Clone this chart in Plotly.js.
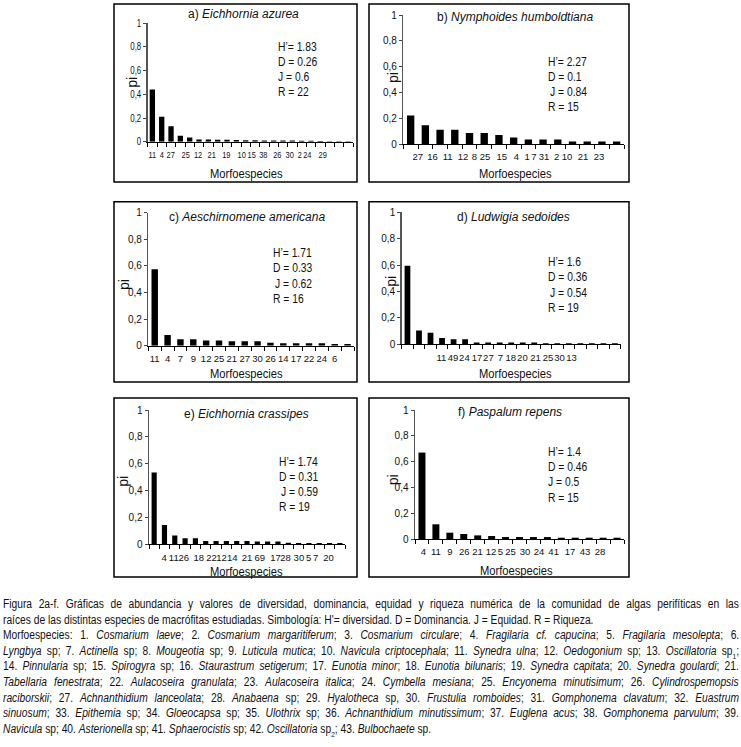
<!DOCTYPE html>
<html>
<head>
<meta charset="utf-8">
<script src="https://cdn.plot.ly/plotly-3.0.1.min.js"></script>
<style>
  html, body { margin: 0; padding: 0; background: #fff; }
  #wrap { position: relative; width: 741px; height: 747px; overflow: hidden; }
  #chart { position: absolute; left: 0; top: 0; width: 741px; height: 747px; }
  #caption { position: absolute; left: 3px; top: 597px; width: 736px;
    font-family: "Liberation Sans", Arial, sans-serif;
    font-size: 12.5px; line-height: 15.6px; color: #111; }
  #caption .line { white-space: nowrap; height: 15.6px; }
  #caption .line span { display: inline-block; white-space: nowrap; transform-origin: 0 50%; }
  #caption sub { font-size: 8px; line-height: 0; }
</style>
</head>
<body>
<div id="wrap">
<div id="chart"></div>
<div id="caption">
<div class="line j"><span>Figura 2a-f. Gráficas de abundancia y valores de diversidad, dominancia, equidad y riqueza numérica de la comunidad de algas perifíticas en las</span></div>
<div class="line" data-w="560"><span>raíces de las distintas especies de macrófitas estudiadas. Simbología: H'= diversidad. D = Dominancia. J = Equidad. R = Riqueza.</span></div>
<div class="line j"><span>Morfoespecies: 1. <i>Cosmarium laeve</i>; 2. <i>Cosmarium margaritiferum</i>; 3. <i>Cosmarium circulare</i>; 4. <i>Fragilaria cf. capucina</i>; 5. <i>Fragilaria mesolepta</i>; 6.</span></div>
<div class="line j"><span><i>Lyngbya</i> sp; 7. <i>Actinella</i> sp; 8. <i>Mougeotia</i> sp; 9. <i>Luticula mutica</i>; 10. <i>Navicula criptocephala</i>; 11. <i>Synedra ulna</i>; 12. <i>Oedogonium</i> sp; 13. <i>Oscillatoria</i> sp<sub>1</sub>;</span></div>
<div class="line j"><span>14. <i>Pinnularia</i> sp; 15. <i>Spirogyra</i> sp; 16. <i>Staurastrum setigerum</i>; 17. <i>Eunotia minor</i>; 18. <i>Eunotia bilunaris</i>; 19. <i>Synedra capitata</i>; 20. <i>Synedra goulardi</i>; 21.</span></div>
<div class="line j"><span><i>Tabellaria fenestrata</i>; 22. <i>Aulacoseira granulata</i>; 23. <i>Aulacoseira italica</i>; 24. <i>Cymbella mesiana</i>; 25. <i>Encyonema minutisimum</i>; 26. <i>Cylindrospemopsis</i></span></div>
<div class="line j"><span><i>raciborskii</i>; 27. <i>Achnanthidium lanceolata</i>; 28. <i>Anabaena</i> sp; 29. <i>Hyalotheca</i> sp, 30. <i>Frustulia romboides</i>; 31. <i>Gomphonema clavatum</i>; 32. <i>Euastrum</i></span></div>
<div class="line j"><span><i>sinuosum</i>; 33. <i>Epithemia</i> sp; 34. <i>Gloeocapsa</i> sp; 35. <i>Ulothrix</i> sp; 36. <i>Achnanthidium minutissimum</i>; 37. <i>Euglena acus</i>; 38. <i>Gomphonema parvulum</i>; 39.</span></div>
<div class="line" data-w="450"><span><i>Navicula</i> sp; 40. <i>Asterionella</i> sp; 41. <i>Sphaerocistis</i> sp; 42. <i>Oscillatoria</i> sp<sub>2</sub>; 43. <i>Bulbochaete</i> sp.</span></div>
</div>
</div>
<script>
// ---------------- DATA ----------------
const titlesA = "a) <i>Eichhornia azurea</i>";
const titlesB = "b) <i>Nymphoides humboldtiana</i>";
const titlesC = "c) <i>Aeschirnomene americana</i>";
const titlesD = "d) <i>Ludwigia sedoides</i>";
const titlesE = "e) <i>Eichhornia crassipes</i>";
const titlesF = "f) <i>Paspalum repens</i>";

const valuesA = [0.44, 0.21, 0.13, 0.05, 0.035, 0.018, 0.018, 0.017, 0.016, 0.015, 0.013, 0.012, 0.011, 0.01, 0.01, 0.01, 0.009, 0.007, 0.005, 0.004, 0.003, 0.003];
const valuesB = [0.22, 0.145, 0.11, 0.11, 0.085, 0.085, 0.07, 0.05, 0.035, 0.035, 0.035, 0.02, 0.02, 0.02, 0.02];
const valuesC = [0.575, 0.08, 0.048, 0.048, 0.04, 0.04, 0.033, 0.033, 0.033, 0.023, 0.018, 0.018, 0.018, 0.018, 0.013, 0.013];
const valuesD = [0.595, 0.105, 0.088, 0.048, 0.038, 0.038, 0.013, 0.013, 0.013, 0.013, 0.013, 0.013, 0.008, 0.008, 0.008, 0.008, 0.008, 0.008, 0.008];
const valuesE = [0.535, 0.143, 0.065, 0.045, 0.045, 0.025, 0.025, 0.025, 0.025, 0.025, 0.02, 0.02, 0.02, 0.012, 0.01, 0.01, 0.01, 0.01, 0.01];
const valuesF = [0.67, 0.114, 0.049, 0.039, 0.028, 0.023, 0.015, 0.015, 0.015, 0.015, 0.01, 0.01, 0.01, 0.01, 0.01];

const labelsA = ['11','4','27','25','12','21','19','10','15','38','26','30','2','24','29'];
const labelsB = ['27','16','11','12','8','25','15','4','1','7','31','2','10','21','23'];
const labelsC = ['11','4','7','9','12','25','21','27','30','26','14','17','22','24','6'];
const labelsD = ['11','49','24','17','27','7','18','20','21','25','30','13'];
const labelsE = ['4','11','26','18','22','12','14','21','69','17','28','30','5','7','20'];
const labelsF = ['4','11','9','26','21','12','5','25','30','24','41','17','43','28'];

// label anchor positions along the category axis (category units)
const labelPosA = [0, 1, 1.96, 3.57, 4.9, 6.36, 7.93, 9.57, 10.64, 11.89, 13.39, 14.71, 15.79, 16.61, 18.25];
const labelPosB = [0.48, 1.49, 2.52, 3.56, 4.33, 5.05, 6.19, 7.18, 7.91, 8.37, 9.06, 9.93, 10.62, 11.72, 12.8];
const labelPosC = [0, 1, 2, 3, 4, 5, 6, 7, 8, 9, 10, 11, 12, 13, 14];
const labelPosD = [2.95, 3.96, 4.94, 6.04, 7.02, 8.06, 8.96, 9.97, 11.1, 12.2, 13.2, 14.24];
const labelPosE = [0.97, 1.9, 2.86, 4.32, 5.55, 6.52, 7.58, 9.0, 10.23, 11.77, 12.74, 14.03, 14.97, 15.65, 16.9];
const labelPosF = [0.1, 1.0, 2.0, 3.03, 3.99, 4.95, 5.62, 6.36, 7.39, 8.4, 9.45, 10.62, 11.7, 12.78];

const statsA = ["H’= 1.83", "D = 0.26", "J = 0.6", "R = 22"];
const statsB = ["H’= 2.27", "D = 0.1", "J = 0.84", "R = 15"];
const statsC = ["H’= 1.71", "D = 0.33", "J = 0.62", "R = 16"];
const statsD = ["H’= 1.6", "D = 0.36", "J = 0.54", "R = 19"];
const statsE = ["H’= 1.74", "D = 0.31", "J = 0.59", "R = 19"];
const statsF = ["H’= 1.4", "D = 0.46", "J = 0.5", "R = 15"];

const yTitle = "pi";
const xTitle = "Morfoespecies";

// ---------------- LAYOUT (pixel geometry) ----------------
const W = 741, H = 747;
const FONT = '"Liberation Sans", Arial, sans-serif';
const SQ_TICK = 0.78, SQ_ANN = 0.86;   // horizontal condensing of the chart texts
const px = v => v / W;
const py = v => 1 - v / H;

const panels = [
  {title: titlesA, vals: valuesA, labels: labelsA, pos: labelPosA, stats: statsA,
   plot: [147.7, 353, 23.3, 141.7], box: [114, 357, 4, 182], tpos: [243, 14],
   spos: [276, 46.7, 15], pipos: [131.7, 82], mpos: [246.7, 173], bw: 0.57},
  {title: titlesB, vals: valuesB, labels: labelsB, pos: labelPosB, stats: statsB,
   plot: [403.3, 624, 15, 144], box: [369, 629, 4, 182], tpos: [515, 16.7],
   spos: [545.7, 61.7, 15], pipos: [393, 78], mpos: [515.7, 173], bw: 0.5},
  {title: titlesC, vals: valuesC, labels: labelsC, pos: labelPosC, stats: statsC,
   plot: [148.3, 354, 212.7, 345.7], box: [114, 357, 201.7, 382], tpos: [246.7, 216.7],
   spos: [270.7, 252.7, 15.4], pipos: [124, 285], mpos: [246.7, 373.3], bw: 0.5},
  {title: titlesD, vals: valuesD, labels: labelsD, pos: labelPosD, stats: statsD,
   plot: [401.7, 620.7, 212.3, 344.3], box: [369, 629, 201.7, 382], tpos: [513.3, 216.7],
   spos: [545.7, 261.7, 15.5], pipos: [391, 281.7], mpos: [515.7, 373.3], bw: 0.5},
  {title: titlesE, vals: valuesE, labels: labelsE, pos: labelPosE, stats: statsE,
   plot: [149, 345, 410, 544.3], box: [114, 357, 398, 577], tpos: [246.7, 414.3],
   spos: [276.7, 461.7, 15], pipos: [123, 481.7], mpos: [246.7, 571.7], bw: 0.5},
  {title: titlesF, vals: valuesF, labels: labelsF, pos: labelPosF, stats: statsF,
   plot: [415, 624, 410, 539], box: [369, 629, 398, 577], tpos: [510, 411.7],
   spos: [545.7, 451.7, 15.3], pipos: [393.3, 480], mpos: [516.7, 570], bw: 0.5}
];

const data = [];
const layout = {
  width: W, height: H,
  margin: {l: 0, r: 0, t: 0, b: 0, pad: 0},
  paper_bgcolor: '#fff', plot_bgcolor: 'rgba(0,0,0,0)',
  showlegend: false,
  separators: ', ',
  font: {family: FONT, color: '#111', size: 10},
  shapes: [], annotations: []
};
const annKind = [];   // 'keep' | 'center' | 'left' per annotation index

panels.forEach((p, i) => {
  const n = i + 1;
  const xa = n === 1 ? 'x' : 'x' + n;
  const ya = n === 1 ? 'y' : 'y' + n;
  const xk = n === 1 ? 'xaxis' : 'xaxis' + n;
  const yk = n === 1 ? 'yaxis' : 'yaxis' + n;
  const N = p.vals.length;
  data.push({
    type: 'bar', x: p.vals.map((_, k) => k), y: p.vals,
    xaxis: xa, yaxis: ya, width: p.bw,
    marker: {color: '#000', line: {width: 0}}, hoverinfo: 'skip'
  });
  const [x0, x1, yt, yb] = p.plot;
  layout[xk] = {
    domain: [px(x0), px(x1)], anchor: ya,
    range: [-0.5, N - 0.5], fixedrange: true,
    showline: true, linecolor: '#000', linewidth: 1,
    showgrid: false, zeroline: false,
    tickmode: 'array', tickvals: p.pos, ticktext: p.labels,
    ticks: '', tickangle: 0, ticklabelstandoff: 4,
    tickfont: {family: FONT, size: 9.5, color: '#111'},
    minor: {tickmode: 'linear', tick0: -0.5, dtick: 1, ticks: 'outside',
            ticklen: 4, tickwidth: 1, tickcolor: '#000', showgrid: false}
  };
  layout[yk] = {
    domain: [py(yb), py(yt)], anchor: xa,
    range: [0, 1], fixedrange: true,
    tickmode: 'linear', tick0: 0, dtick: 0.2,
    showline: true, linecolor: '#555', linewidth: 1.5,
    ticks: 'outside', ticklen: 3, tickwidth: 1, tickcolor: '#444',
    showgrid: false, zeroline: false,
    tickfont: {family: FONT, size: 10, color: '#111'}
  };
  const [bx0, bx1, by0, by1] = p.box;
  layout.shapes.push({type: 'rect', xref: 'paper', yref: 'paper',
    x0: px(bx0), x1: px(bx1), y0: py(by1), y1: py(by0),
    line: {color: '#000', width: 1.5}, fillcolor: 'rgba(0,0,0,0)'});
  layout.annotations.push({xref: 'paper', yref: 'paper', x: px(p.tpos[0]), y: py(p.tpos[1]),
    xanchor: 'center', yanchor: 'middle', showarrow: false, text: p.title,
    font: {family: FONT, size: 12, color: '#111'}});
  annKind.push('keep');
  p.stats.forEach((s, k) => {
    const shift = s.startsWith('J') && i !== 0 && i !== 5 ? 2 : 0;
    layout.annotations.push({xref: 'paper', yref: 'paper',
      x: px(p.spos[0] + shift), y: py(p.spos[1] + k * p.spos[2]),
      xanchor: 'left', yanchor: 'middle', showarrow: false, text: s,
      font: {family: FONT, size: 12, color: '#111'}});
    annKind.push('left');
  });
  layout.annotations.push({xref: 'paper', yref: 'paper', x: px(p.pipos[0]), y: py(p.pipos[1]),
    xanchor: 'center', yanchor: 'middle', showarrow: false, text: yTitle, textangle: -90,
    font: {family: FONT, size: 14, color: '#111'}});
  annKind.push('keep');
  layout.annotations.push({xref: 'paper', yref: 'paper', x: px(p.mpos[0]), y: py(p.mpos[1]),
    xanchor: 'center', yanchor: 'middle', showarrow: false, text: xTitle,
    font: {family: FONT, size: 13, color: '#111'}});
  annKind.push('center');
});

function squeezeText(t, f, keepLeft) {
  if (!t.textContent.trim()) return;
  const L = t.getComputedTextLength();
  if (!(L > 0)) return;
  t.setAttribute('textLength', (L * f).toFixed(2));
  t.setAttribute('lengthAdjust', 'spacingAndGlyphs');
  if (keepLeft) {
    const x = parseFloat(t.getAttribute('x') || '0');
    t.setAttribute('x', (x - L * (1 - f) / 2).toFixed(2));
  }
}

function squeezeChart() {
  document.querySelectorAll('#chart .xtick text, #chart .ytick text')
    .forEach(t => squeezeText(t, SQ_TICK, false));
  document.querySelectorAll('#chart .annotation').forEach(g => {
    const idx = +g.getAttribute('data-index');
    const kind = annKind[idx];
    if (kind === 'keep') return;
    const t = g.querySelector('text');
    if (t) squeezeText(t, SQ_ANN, kind === 'left');
  });
}

// caption: glyph condensing taken from the un-justified lines; justified lines get word spacing
function fitCaption() {
  const target = 736;
  const lines = Array.from(document.querySelectorAll('#caption .line'));
  const ks = [];
  lines.forEach(div => {
    const span = div.firstElementChild;
    span.style.transform = 'none';
    span.style.wordSpacing = '0px';
    div._w = span.offsetWidth;
    if (div.dataset.w) ks.push(parseFloat(div.dataset.w) / div._w);
  });
  const k = ks.reduce((a, b) => a + b, 0) / ks.length;
  lines.forEach(div => {
    const span = div.firstElementChild;
    if (div.classList.contains('j')) {
      const spaces = (span.textContent.match(/ /g) || []).length;
      const ws = (target / k - div._w) / spaces;
      span.style.wordSpacing = ws.toFixed(3) + 'px';
    }
    span.style.transform = 'scaleX(' + k.toFixed(4) + ')';
  });
}

Plotly.newPlot('chart', data, layout, {staticPlot: true, displayModeBar: false}).then(squeezeChart);
fitCaption();
if (document.fonts && document.fonts.ready) document.fonts.ready.then(fitCaption);
</script>
</body>
</html>
